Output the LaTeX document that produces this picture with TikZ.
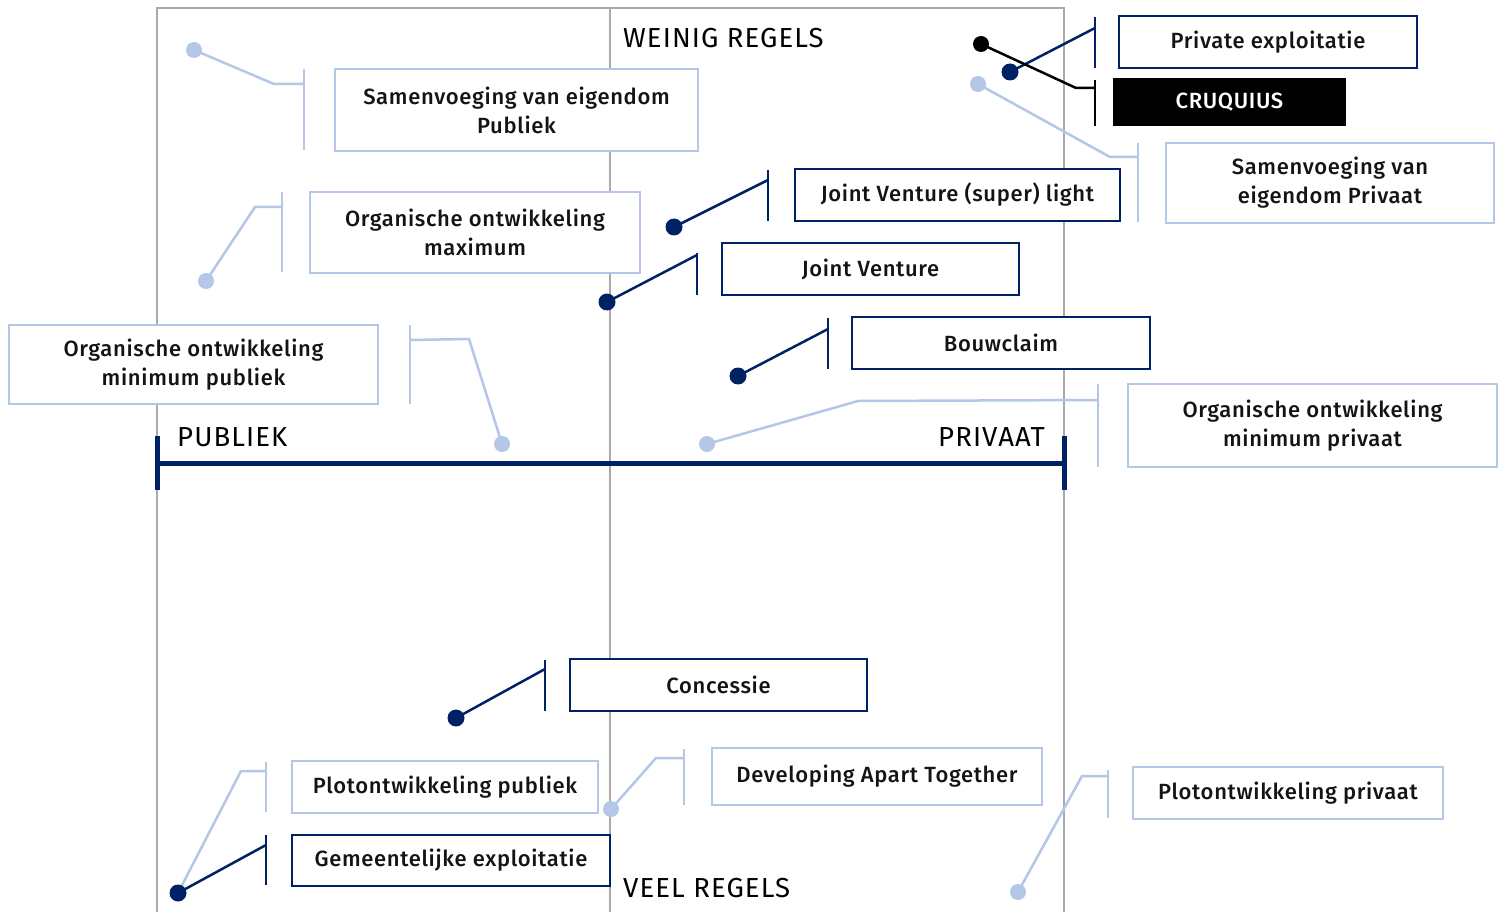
\documentclass[tikz,border=0pt]{standalone}
\usepackage{fontspec}
\setmainfont{Fira Sans}[LetterSpace=4]
\newfontfamily\labfont{Fira Sans}[UprightFont={* Medium}, LetterSpace=3]
\definecolor{navy}{RGB}{0,34,100}
\definecolor{lblue}{RGB}{180,199,231}
\definecolor{frame}{RGB}{170,170,170}
\definecolor{txt}{RGB}{20,20,20}
\tikzset{
  lab/.style={font=\labfont\fontsize{22}{29}\selectfont, text=txt, align=center, inner sep=0pt},
  navybox/.style={lab, draw=navy, line width=2.5pt, fill=white},
  lightbox/.style={lab, draw=lblue, line width=2.5pt, fill=white},
  blackbox/.style={lab, fill=black, text=white},
  head/.style={font=\fontsize{27.5}{30}\selectfont, text=black, inner sep=0pt},
  navyline/.style={draw=navy, line width=2.5pt},
  lightline/.style={draw=lblue, line width=2.5pt},
  blackline/.style={draw=black, line width=2.5pt},
}
\begin{document}
\begin{tikzpicture}[x=1pt,y=-1pt]
\useasboundingbox[fill=white] (0,0) rectangle (1505,912);
% frame
\draw[frame, line width=2pt] (157,912) -- (157,8) -- (1064,8) -- (1064,912);
\draw[frame, line width=1.5pt] (610,8) -- (610,912);
% axis
\coordinate (axL) at (157,463);
\coordinate (axR) at (1064,463);
\draw[navy, line width=5pt] (axL) -- (axR);
\draw[navy, line width=5pt] ([yshift=-27pt]axL) -- ([yshift=27pt]axL);
\draw[navy, line width=5pt] ([yshift=-27pt]axR) -- ([yshift=27pt]axR);
\node[head, anchor=west] (weinig) at (623,38) {WEINIG REGELS};
\node[head, anchor=west] (veel) at (623,888) {VEEL REGELS};
\node[head, anchor=west] (publiek) at (177,437) {PUBLIEK};
\node[head, anchor=east] (privaat) at (1045,437) {PRIVAAT};

% boxes
\node[navybox, minimum width=298pt, minimum height=52pt] (pe) at (1268,42) {Private exploitatie};
\node[blackbox, minimum width=233pt, minimum height=48pt] (cr) at (1229.5,102) {CRUQUIUS};
\node[lightbox, minimum width=328pt, minimum height=80pt] (sp) at (1330,183) {Samenvoeging van\\eigendom Privaat};
\node[lightbox, minimum width=363pt, minimum height=82pt] (sb) at (516.5,110) {Samenvoeging van eigendom\\Publiek};
\node[lightbox, minimum width=330pt, minimum height=81pt] (om) at (475,232.5) {Organische ontwikkeling\\maximum};
\node[navybox, minimum width=325pt, minimum height=52pt] (jvs) at (957.5,195) {Joint Venture (super) light};
\node[navybox, minimum width=297pt, minimum height=52pt] (jv) at (870.5,269) {Joint Venture};
\node[navybox, minimum width=298pt, minimum height=52pt] (bc) at (1001,343) {Bouwclaim};
\node[lightbox, minimum width=369pt, minimum height=79pt] (omp) at (193.5,364.5) {Organische ontwikkeling\\minimum publiek};
\node[lightbox, minimum width=369pt, minimum height=83pt] (omv) at (1312.5,425.5) {Organische ontwikkeling\\minimum privaat};
\node[navybox, minimum width=297pt, minimum height=52pt] (co) at (718.5,685) {Concessie};
\node[lightbox, minimum width=306pt, minimum height=52pt] (pp) at (445,787) {Plotontwikkeling publiek};
\node[lightbox, minimum width=330pt, minimum height=57pt] (dat) at (877,776.5) {Developing Apart Together};
\node[lightbox, minimum width=310pt, minimum height=52pt] (ppv) at (1288,793) {Plotontwikkeling privaat};
\node[navybox, minimum width=318pt, minimum height=51pt] (ge) at (451,860.5) {Gemeentelijke exploitatie};

% connector points: bar top, bar bottom, joint, elbow, dot
\coordinate (pe-t) at (1095,17); \coordinate (pe-b) at (1095,68);
\coordinate (pe-j) at (1095,28); \coordinate (pe-d) at (1010,72);
\coordinate (cr-t) at (1095,80); \coordinate (cr-b) at (1095,126);
\coordinate (cr-j) at (1095,88); \coordinate (cr-e) at (1076,88); \coordinate (cr-d) at (981,44);
\coordinate (sp-t) at (1138,143); \coordinate (sp-b) at (1138,222);
\coordinate (sp-j) at (1138,157); \coordinate (sp-e) at (1110,157); \coordinate (sp-d) at (978,84);
\coordinate (sb-t) at (304,69); \coordinate (sb-b) at (304,150);
\coordinate (sb-j) at (304,84); \coordinate (sb-e) at (274,84); \coordinate (sb-d) at (194,50);
\coordinate (om-t) at (282,192); \coordinate (om-b) at (282,272);
\coordinate (om-j) at (282,207); \coordinate (om-e) at (255,207); \coordinate (om-d) at (206,281);
\coordinate (jvs-t) at (768,170); \coordinate (jvs-b) at (768,221);
\coordinate (jvs-j) at (768,180); \coordinate (jvs-d) at (674,227);
\coordinate (jv-t) at (697,253); \coordinate (jv-b) at (697,295);
\coordinate (jv-j) at (697,255); \coordinate (jv-d) at (607,302);
\coordinate (bc-t) at (828,318); \coordinate (bc-b) at (828,369);
\coordinate (bc-j) at (828,329); \coordinate (bc-d) at (738,376);
\coordinate (omp-t) at (410,325); \coordinate (omp-b) at (410,404);
\coordinate (omp-j) at (410,340); \coordinate (omp-e) at (469,339); \coordinate (omp-d) at (502,444);
\coordinate (omv-t) at (1098,384); \coordinate (omv-b) at (1098,467);
\coordinate (omv-j) at (1098,400); \coordinate (omv-e) at (858,401); \coordinate (omv-d) at (707,444);
\coordinate (co-t) at (545,660); \coordinate (co-b) at (545,711);
\coordinate (co-j) at (545,669); \coordinate (co-d) at (456,718);
\coordinate (pp-t) at (266,762); \coordinate (pp-b) at (266,812);
\coordinate (pp-j) at (266,771); \coordinate (pp-e) at (241,771); \coordinate (pp-d) at (178,893);
\coordinate (dat-t) at (684,749); \coordinate (dat-b) at (684,805);
\coordinate (dat-j) at (684,758); \coordinate (dat-e) at (656,758); \coordinate (dat-d) at (611,809);
\coordinate (ppv-t) at (1108,770); \coordinate (ppv-b) at (1108,818);
\coordinate (ppv-j) at (1108,776); \coordinate (ppv-e) at (1082,776); \coordinate (ppv-d) at (1018,892);
\coordinate (ge-t) at (266,835); \coordinate (ge-b) at (266,885);
\coordinate (ge-j) at (266,845); \coordinate (ge-d) at (178,893);

\foreach \n in {sp,sb,om,omp,omv,pp,dat,ppv}{
  \draw[lightline] (\n-t) -- (\n-b);
  \draw[lightline] (\n-j) -- (\n-e) -- (\n-d);
  \fill[lblue] (\n-d) circle (8);
}
\foreach \n in {pe,jvs,jv,bc,co,ge}{
  \draw[navyline] (\n-t) -- (\n-b);
  \draw[navyline] (\n-j) -- (\n-d);
}
\draw[blackline] (cr-t) -- (cr-b);
\draw[blackline] (cr-j) -- (cr-e) -- (cr-d);
\fill[black] (cr-d) circle (8);
\foreach \n in {pe,jvs,jv,bc,co,ge}{
  \fill[navy] (\n-d) circle (8.5);
}
\end{tikzpicture}
\end{document}
